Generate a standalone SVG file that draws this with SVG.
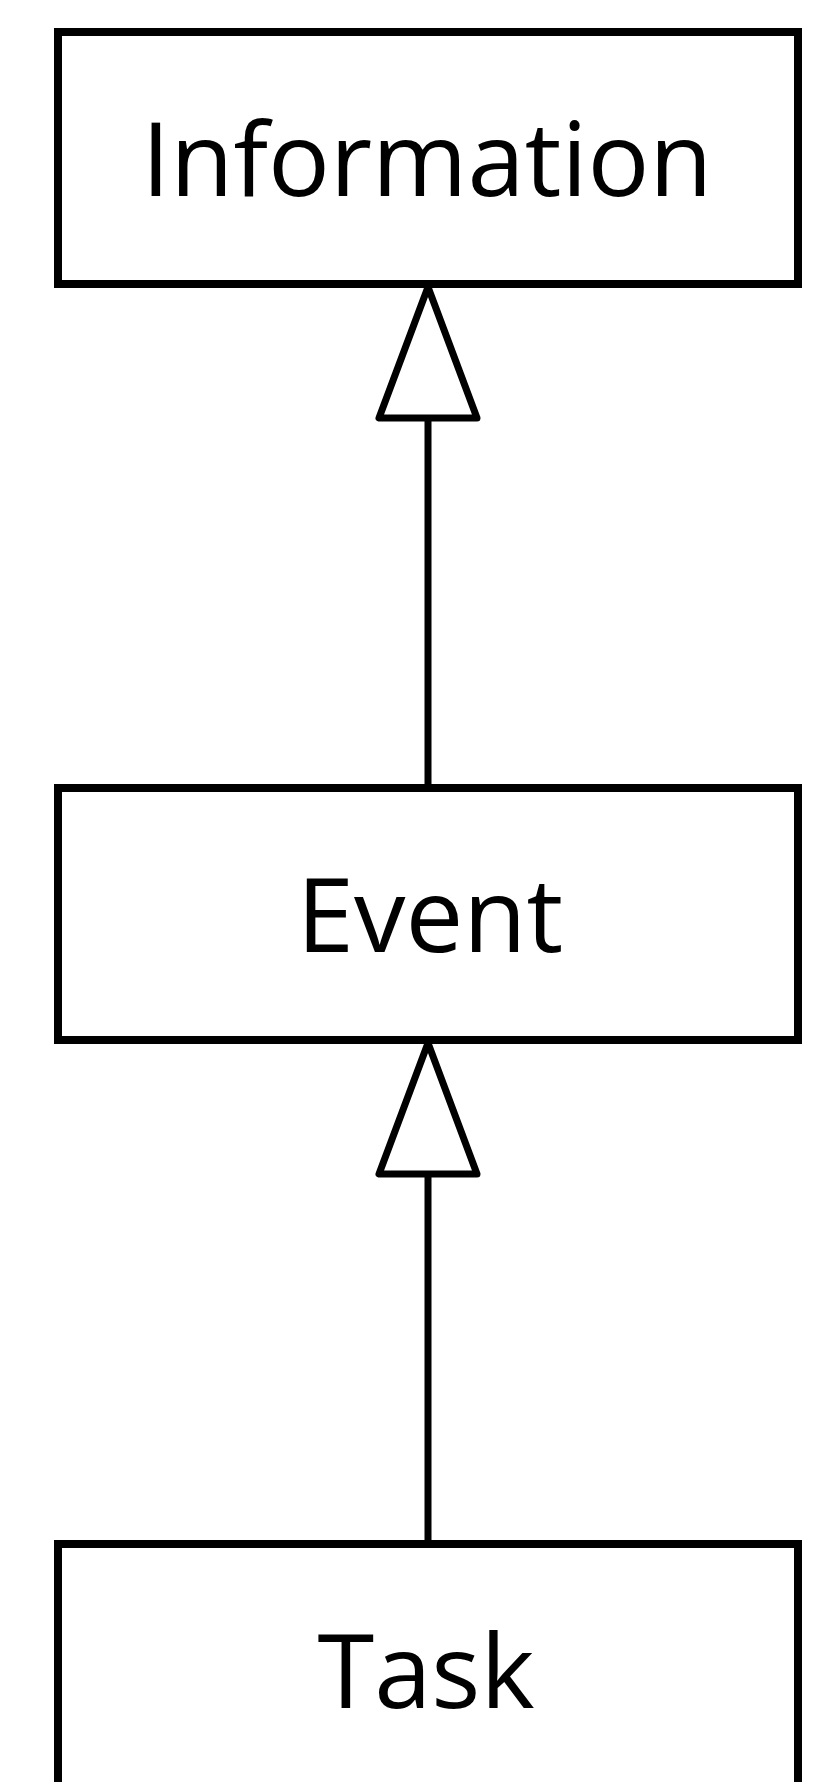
<svg xmlns="http://www.w3.org/2000/svg" width="828" height="1782" viewBox="0 0 828 1782">
<style>
.box{fill:#fff;stroke:#000;stroke-width:8}
.lbl{font-family:"Open Sans","Noto Sans","DejaVu Sans",sans-serif;font-size:103px;fill:#000;text-anchor:middle}
.edge{stroke:#000;stroke-width:7;fill:none}
.head{fill:#fff;stroke:#000;stroke-width:7;stroke-linejoin:round}
</style>
<rect width="828" height="1782" fill="#fff"/>
<g id="connectors">
<g id="event-to-information">
<line class="edge" x1="428" y1="418" x2="428" y2="788"/>
<polygon class="head" points="428,287 379,418 477,418"/>
</g>
<g id="task-to-event">
<line class="edge" x1="428" y1="1174" x2="428" y2="1544"/>
<polygon class="head" points="428,1043 379,1174 477,1174"/>
</g>
</g>
<g id="information">
<rect class="box" x="58" y="32" width="740" height="252"/>
<text class="lbl" x="427" y="196">Information</text>
</g>
<g id="event">
<rect class="box" x="58" y="788" width="740" height="252"/>
<text class="lbl" x="430" y="952">Event</text>
</g>
<g id="task">
<rect class="box" x="58" y="1544" width="740" height="252"/>
<text class="lbl" x="426" y="1708">Task</text>
</g>
</svg>
